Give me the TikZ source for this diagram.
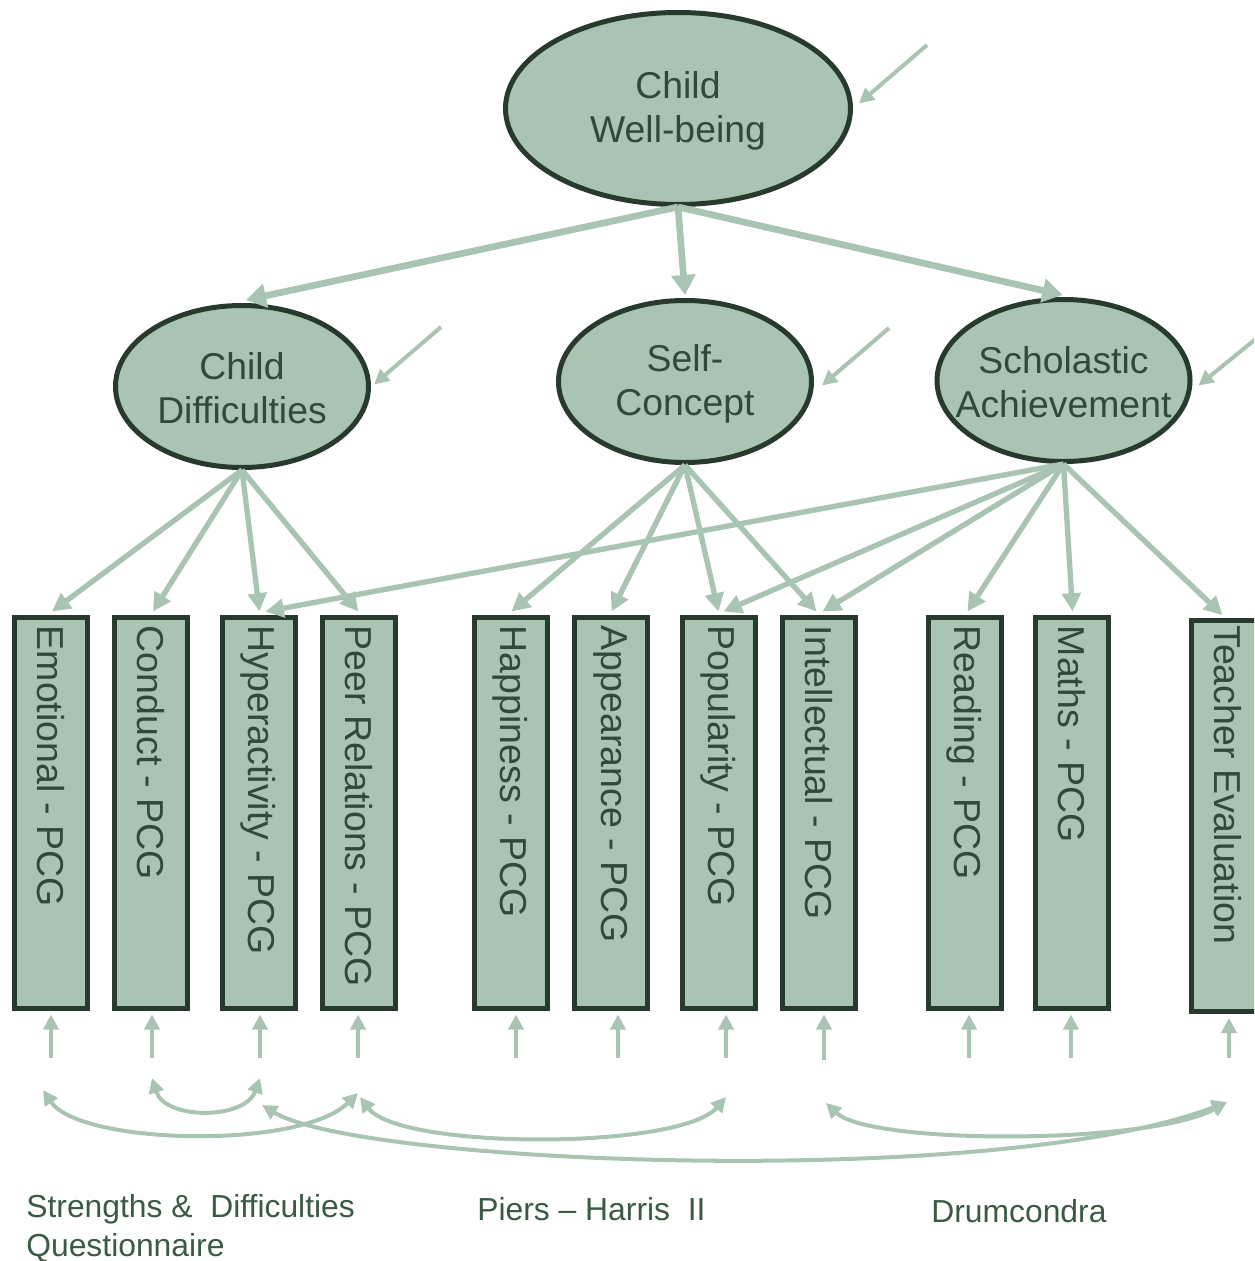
\documentclass[tikz,border=0pt]{standalone}
\usepackage{fontspec}
\setmainfont{Liberation Sans}
\usetikzlibrary{arrows.meta,shapes.geometric,calc}
\definecolor{sage}{RGB}{169,196,179}
\definecolor{dk}{RGB}{40,58,45}
\definecolor{txt}{RGB}{46,74,58}
\definecolor{lbl}{RGB}{58,90,70}
\begin{document}
\begin{tikzpicture}[x=0.6pt,y=-0.6pt,
  lat/.style={ellipse, draw=dk, fill=sage, line width=3pt, text=txt,
    font=\fontsize{22.4}{26.4}\selectfont, align=center, inner xsep=-14pt, inner ysep=0pt,
    minimum width=151.8pt, minimum height=97.2pt},
  obs/.style={rectangle, draw=dk, fill=sage, line width=3pt,
    minimum width=43.8pt, minimum height=234.6pt, inner sep=0pt},
  vlab/.style={rotate=-90, anchor=west, text=txt,
    font=\fontsize{22.5}{26}\selectfont, inner sep=0pt},
  load/.style={draw=sage, line width=3.2pt, -{Triangle[length=11pt,width=11pt]}},
  toppath/.style={draw=sage, line width=4pt, -{Triangle[length=12pt,width=14pt]}},
  err/.style={draw=sage, line width=2.4pt, -{Triangle[length=9pt,width=9pt]}},
  cov/.style={draw=sage, line width=2.4pt,
    {Triangle[length=9pt,width=9pt]}-{Triangle[length=9pt,width=9pt]}},
  bl/.style={text=lbl, font=\fontsize{19.1}{23.4}\selectfont, anchor=north west,
    inner sep=0pt, align=left}]
\clip (0,0) rectangle (1254,1261);
\fill[white] (0,0) rectangle (1254,1261);

% latent variables
\node[lat, minimum width=207pt, minimum height=115.2pt] (cw) at (678,108.5) {\strut Child\\Well-being};
\node[lat] (cd) at (242,386.5) {\strut Child\\Difficulties};
\node[lat] (sc) at (685,381.5) {\strut Self-\\Concept};
\node[lat] (sa) at (1063.5,380.5) {\strut Scholastic\\Achievement};

% observed variables
\node[obs] (emo) at (51,812.5) {};
\node[obs] (con) at (151,812.5) {};
\node[obs] (hyp) at (258.5,812.5) {};
\node[obs] (peer) at (358.5,812.5) {};
\node[obs] (hap) at (510.5,812.5) {};
\node[obs] (app) at (610.5,812.5) {};
\node[obs] (pop) at (718.5,812.5) {};
\node[obs] (int) at (818.5,812.5) {};
\node[obs] (rea) at (964.5,812.5) {};
\node[obs] (mat) at (1071.5,812.5) {};
\node[obs] (tea) at (1227.5,816) {};

\node[vlab] (temo) at ($(emo.north)+(0,11)$) {Emotional - PCG};
\node[vlab] (tcon) at ($(con.north)+(0,11)$) {Conduct - PCG};
\node[vlab] (thyp) at ($(hyp.north)+(0,11)$) {Hyperactivity - PCG};
\node[vlab] (tpeer) at ($(peer.north)+(0,11)$) {Peer Relations - PCG};
\node[vlab] (thap) at ($(hap.north)+(0,11)$) {Happiness - PCG};
\node[vlab] (tapp) at ($(app.north)+(0,11)$) {Appearance - PCG};
\node[vlab] (tpop) at ($(pop.north)+(0,11)$) {Popularity - PCG};
\node[vlab] (tint) at ($(int.north)+(0,11)$) {Intellectual - PCG};
\node[vlab] (trea) at ($(rea.north)+(0,11)$) {Reading - PCG};
\node[vlab] (tmat) at ($(mat.north)+(0,11)$) {Maths - PCG};
\node[vlab] (ttea) at ($(tea.north)+(0,7)$) {Teacher Evaluation};

% structural paths
\draw[toppath] (cw.south) -- ($(cd.north)+(4,-3)$);
\draw[toppath] (cw.south) -- ($(sc.north)+(0,-3)$);
\draw[toppath] (cw.south) -- ($(sa.north)+(-1,-2)$);

% loadings
\draw[load] (cd.south) -- ($(emo.north)+(1,-3)$);
\draw[load] (cd.south) -- ($(con.north)+(2,-3)$);
\draw[load] (cd.south) -- ($(hyp.north)+(1,-3)$);
\draw[load] (cd.south) -- ($(peer.north)+(0,-3)$);
\draw[load] (sc.south) -- ($(hap.north)+(1,-3)$);
\draw[load] (sc.south) -- ($(app.north)+(1,-3)$);
\draw[load] (sc.south) -- ($(pop.north)+(0,-3)$);
\draw[load] (sc.south) -- ($(int.north)+(-2,-3)$);
\draw[load] (sa.south) -- ($(hyp.north)+(7,-3)$);
\draw[load] (sa.south) -- ($(pop.north)+(5,-3)$);
\draw[load] (sa.south) -- ($(int.north)+(4,-3)$);
\draw[load] (sa.south) -- ($(rea.north)+(3,-3)$);
\draw[load] (sa.south) -- ($(mat.north)+(1,-3)$);
\draw[load] (sa.south) -- ($(tea.north)+(-5,-3)$);

% disturbance arrows on latents
\coordinate (dcw) at (927,45);
\coordinate (dcd) at (441,327);
\coordinate (dsc) at (889,328);
\coordinate (dsa) at (1268,329);
\draw[err] (dcw) -- ($(cw.east)+(6,-5)$);
\draw[err] (dcd) -- ($(cd.east)+(3,-2)$);
\draw[err] (dsc) -- ($(sc.east)+(8,4)$);
\draw[err] (dsa) -- ($(sa.east)+(6,5)$);

% error arrows on indicators
\coordinate (u1) at (51,1058);
\coordinate (u2) at (152,1058);
\coordinate (u3) at (260,1058);
\coordinate (u4) at (358,1058);
\coordinate (u5) at (516,1058);
\coordinate (u6) at (618,1058);
\coordinate (u7) at (726,1058);
\coordinate (u8) at (824,1060);
\coordinate (u9) at (969,1058);
\coordinate (u10) at (1071,1058);
\coordinate (u11) at (1229,1058);
\draw[err] (u1) -- ($(u1 |- emo.south)+(0,4)$);
\draw[err] (u2) -- ($(u2 |- con.south)+(0,4)$);
\draw[err] (u3) -- ($(u3 |- hyp.south)+(0,4)$);
\draw[err] (u4) -- ($(u4 |- peer.south)+(0,4)$);
\draw[err] (u5) -- ($(u5 |- hap.south)+(0,4)$);
\draw[err] (u6) -- ($(u6 |- app.south)+(0,4)$);
\draw[err] (u7) -- ($(u7 |- pop.south)+(0,4)$);
\draw[err] (u8) -- ($(u8 |- int.south)+(0,4)$);
\draw[err] (u9) -- ($(u9 |- rea.south)+(0,4)$);
\draw[err] (u10) -- ($(u10 |- mat.south)+(0,4)$);
\draw[err] (u11) -- ($(u11 |- tea.south)+(0,4)$);

% correlated errors
\coordinate (a1) at (43,1090);  \coordinate (a2) at (358,1093);
\coordinate (b1) at (152,1078); \coordinate (b2) at (260,1078);
\coordinate (c1) at (262,1105); \coordinate (c2) at (1227,1102);
\coordinate (d1) at (360,1097); \coordinate (d2) at (726,1097);
\coordinate (e1) at (826,1103); \coordinate (e2) at (1227,1102);
\draw[cov] (a1) .. controls (80,1145) and (300,1150) .. (a2);
\draw[cov] (b1) .. controls (165,1120) and (245,1120) .. (b2);
\draw[cov] (c1) .. controls (360,1165) and (1000,1190) .. (c2);
\draw[cov] (d1) .. controls (400,1150) and (680,1150) .. (d2);
\draw[cov] (e1) .. controls (870,1145) and (1150,1145) .. (e2);

% instrument labels
\node[bl] (sdq) at (26,1194) {Strengths \&\ \ Difficulties\\Questionnaire};
\node[bl] (ph) at (477,1197) {Piers – Harris\ \ II};
\node[bl] (dr) at (931,1199) {Drumcondra};
\end{tikzpicture}
\end{document}
